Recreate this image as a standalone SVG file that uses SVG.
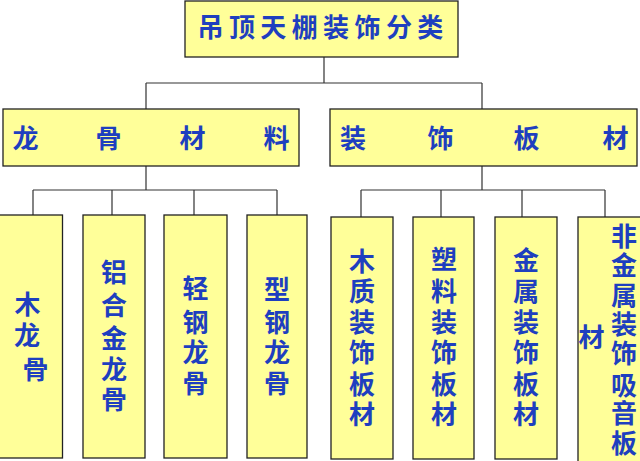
<svg xmlns="http://www.w3.org/2000/svg" width="640" height="461" viewBox="0 0 640 461">
<style>
.box{fill:#FFFF99;stroke:#222;stroke-width:1.3}
.t{font-family:"Noto Sans CJK SC","Noto Sans CJK TC",sans-serif;font-size:26px;font-weight:bold;fill:#1E3FBF;text-anchor:middle}
.c{fill:none;stroke:#333;stroke-width:1.2}
</style>
<rect x="0" y="0" width="640" height="461" fill="#fff"/>
<g id="connectors">
<path class="c" d="M324 57V83M146 83H482M146 83V109M482 83V109"/>
<path class="c" d="M146 166V190M33 190H277M33 190V215M112 190V215M194 190V215M277 190V215"/>
<path class="c" d="M482 166V190M361 190H605M361 190V217M441 190V217M522 190V217M605 190V217"/>
</g>
<g id="root">
<rect class="box" x="185" y="1" width="273" height="56"/>
<text class="t" x="210.5 241.9 273.3 304.7 336.1 367.5 398.9 430.3" y="37">吊顶天棚装饰分类</text>
</g>
<g id="keel">
<rect class="box" x="3" y="109" width="296" height="57"/>
<text class="t" x="25.5 108.5 192.5 276.5" y="147.5">龙骨材料</text>
</g>
<g id="panel">
<rect class="box" x="330" y="109" width="307" height="57"/>
<text class="t" x="353 440.5 526.5 615.5" y="147.5">装饰板材</text>
</g>
<g id="wood-keel">
<rect class="box" x="-1" y="215" width="63.5" height="243"/>
<text class="t" x="27.5" y="314">木</text>
<text class="t" x="27" y="345">龙</text>
<text class="t" x="35.5" y="378.5">骨</text>
</g>
<g id="alu-keel">
<rect class="box" x="83" y="215" width="62" height="243"/>
<text class="t"><tspan x="114" y="281.5">铝</tspan><tspan x="114" y="314.5">合</tspan><tspan x="114" y="347.5">金</tspan><tspan x="114" y="379">龙</tspan><tspan x="114" y="409">骨</tspan></text>
</g>
<g id="light-steel-keel">
<rect class="box" x="164" y="215" width="63" height="243"/>
<text class="t"><tspan x="195.5" y="298">轻</tspan><tspan x="195.5" y="331.5">钢</tspan><tspan x="195.5" y="362">龙</tspan><tspan x="195.5" y="393">骨</tspan></text>
</g>
<g id="section-steel-keel">
<rect class="box" x="247" y="215" width="60" height="243"/>
<text class="t"><tspan x="277" y="299">型</tspan><tspan x="277" y="331.5">钢</tspan><tspan x="277" y="362">龙</tspan><tspan x="277" y="393">骨</tspan></text>
</g>
<g id="wood-panel">
<rect class="box" x="331" y="217" width="62" height="242"/>
<text class="t"><tspan x="362" y="271">木</tspan><tspan x="362" y="301">质</tspan><tspan x="362" y="331.5">装</tspan><tspan x="362" y="362">饰</tspan><tspan x="362" y="393.5">板</tspan><tspan x="362" y="424">材</tspan></text>
</g>
<g id="plastic-panel">
<rect class="box" x="413" y="217" width="61" height="242"/>
<text class="t"><tspan x="444" y="268.5">塑</tspan><tspan x="444" y="301">料</tspan><tspan x="444" y="331.5">装</tspan><tspan x="444" y="362">饰</tspan><tspan x="444" y="393.5">板</tspan><tspan x="444" y="424">材</tspan></text>
</g>
<g id="metal-panel">
<rect class="box" x="495" y="217" width="62" height="242"/>
<text class="t"><tspan x="526" y="270">金</tspan><tspan x="526" y="301">属</tspan><tspan x="526" y="331.5">装</tspan><tspan x="526" y="362">饰</tspan><tspan x="526" y="393.5">板</tspan><tspan x="526" y="424">材</tspan></text>
</g>
<g id="nonmetal-panel">
<rect class="box" x="578" y="217" width="70" height="250"/>
<text class="t"><tspan x="624" y="246">非</tspan><tspan x="624" y="275">金</tspan><tspan x="624" y="305">属</tspan><tspan x="624" y="334">装</tspan><tspan x="624" y="363">饰</tspan><tspan x="624" y="395">吸</tspan><tspan x="624" y="423">音</tspan><tspan x="624" y="453">板</tspan><tspan x="591.5" y="347">材</tspan></text>
</g>
</svg>
